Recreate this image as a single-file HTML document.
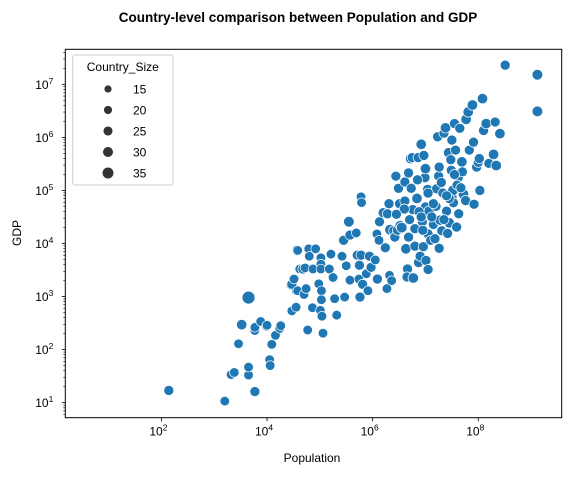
<!DOCTYPE html>
<html><head><meta charset="utf-8"><style>
body{margin:0;background:#fff;}
svg text{font-family:"Liberation Sans","DejaVu Sans",sans-serif;}
</style></head><body>
<svg id="chart" width="582" height="476" viewBox="0 0 582 476" xmlns="http://www.w3.org/2000/svg">
<text x="298" y="22" text-anchor="middle" font-size="13.5" font-weight="bold">Country-level comparison between Population and GDP</text>
<rect x="65.3" y="49.3" width="496.4" height="368.4" fill="#fff" stroke="none"/>
<g id="points"></g>
<rect x="65.3" y="49.3" width="496.4" height="368.4" fill="none" stroke="#000" stroke-width="1"/>
<g id="axes"></g>
<text x="312" y="462" text-anchor="middle" font-size="12">Population</text>
<text x="21" y="233" text-anchor="middle" font-size="12" transform="rotate(-90 21 233)">GDP</text>
<g id="legend">
<rect x="72.7" y="55" width="100.3" height="130" rx="2.5" fill="#fff" fill-opacity="0.8" stroke="#ccc"/>
<text x="122.8" y="71" text-anchor="middle" font-size="12">Country_Size</text>
</g>
</svg>
<script>
const popLog=[2.14,3.20,3.32,3.38,3.46,3.52,3.65,3.65,3.65,3.77,3.77,3.77,3.88,3.99,4.00,4.05,4.06,4.09,4.16,4.25,4.24,4.46,4.47,4.52,4.56,4.57,4.56,4.55,4.62,
4.26,4.47,4.51,4.58,4.47,4.55,4.58,4.68,4.72,4.70,4.74,4.77,4.79,4.80,4.92,4.86,4.87,4.98,5.02,5.02,5.02,5.03,5.03,5.01,5.04,5.06,5.18,5.21,5.25,5.28,5.32,5.42,5.45,5.47,5.50,5.55,5.57,5.57,5.69,5.71,5.78,5.94,5.75,5.74,5.76,5.81,5.78,5.79,5.88,5.91,5.97,6.05,6.09,6.08,6.13,6.12,6.20,6.28,6.24,6.27,6.32,6.36,6.31,6.33,6.40,6.42,6.44,6.47,6.49,6.51,6.61,6.52,6.61,6.63,6.66,6.65,6.68,6.68,6.72,6.75,6.73,6.76,6.77,6.80,6.80,6.84,6.86,6.87,6.90,6.92,6.94,6.96,6.97,6.99,7.00,7.00,7.01,7.04,7.05,7.05,7.07,7.10,7.15,7.18,7.21,7.23,7.25,7.26,7.26,7.28,7.31,7.33,7.35,7.38,7.40,7.42,7.44,7.45,7.48,7.49,7.50,7.50,7.52,7.53,7.55,7.57,7.59,7.62,7.63,7.65,7.69,7.72,7.76,7.77,7.81,7.83,7.89,7.91,7.92,7.97,8.00,8.02,8.03,8.08,8.10,8.15,8.20,8.29,8.32,8.34,8.41,8.51,9.12,9.12,
6.55,6.70,6.88,6.95,7.12,7.20,7.35,7.45,7.60,7.70,6.60,6.85,7.05,7.30,7.55,6.45,6.92,7.15,7.40,7.67];
const gdpLog=[1.23,1.03,1.53,1.57,2.11,2.47,2.98,1.52,1.67,1.21,2.36,2.42,2.53,2.44,2.46,1.81,1.70,2.10,2.27,2.45,2.40,3.22,2.73,3.34,3.88,3.86,3.11,2.81,3.52,
2.45,3.23,3.33,3.11,2.73,2.80,3.87,3.52,3.54,3.04,3.15,2.37,3.90,3.76,3.90,2.79,3.52,3.24,3.73,3.61,3.52,3.11,2.94,2.74,2.63,2.31,3.52,3.80,3.36,2.96,2.65,3.76,4.06,2.99,3.58,4.41,3.31,4.16,4.20,3.78,3.78,3.76,3.59,3.33,2.99,3.23,4.88,4.77,3.43,3.11,3.55,3.69,3.33,4.18,4.41,4.06,4.58,4.56,3.92,3.15,3.40,3.30,4.75,4.26,4.24,4.12,5.27,4.25,5.04,4.75,4.80,4.34,5.16,3.90,3.52,3.37,5.33,4.12,5.60,5.62,5.04,4.64,3.35,3.95,4.28,4.85,5.62,3.64,3.76,5.87,4.41,3.94,5.66,5.24,5.41,4.69,3.68,5.02,4.18,3.51,4.61,4.06,4.36,4.09,5.03,6.01,5.27,5.44,3.91,4.44,4.24,4.95,6.08,6.18,4.61,4.19,5.71,4.39,5.58,5.38,5.95,4.87,5.00,4.77,6.26,5.76,4.31,5.25,4.56,6.17,5.54,4.93,4.81,6.34,6.48,5.76,6.61,5.91,4.74,5.44,5.53,5.60,5.00,6.73,6.13,6.26,5.51,5.68,6.29,5.47,6.07,7.36,7.18,6.49,
4.30,4.45,4.60,4.25,4.50,4.70,4.45,4.85,5.10,5.35,4.65,5.20,4.95,5.15,5.30,4.55,4.50,4.75,4.90,5.05];
const sizeVal=[22,20,20,20,20,24,35,20,20,22,20,20,20,20,20,20,20,20,20,22,20,25,22,20,20,20,22,20,20,
20,22,20,20,20,20,20,22,20,20,20,20,20,20,20,20,20,20,20,20,20,20,20,20,20,20,20,20,20,20,20,20,22,20,20,25,20,22,20,22,22,22,22,20,22,22,20,20,20,20,22,20,22,20,22,20,22,22,22,20,20,20,22,25,22,22,22,22,22,22,22,22,22,24,22,22,22,22,24,22,22,22,24,22,22,24,22,22,22,24,22,22,22,22,24,22,22,22,22,22,24,22,22,22,22,22,22,22,22,24,22,22,22,24,22,22,24,24,22,22,22,24,24,22,22,22,22,24,22,22,24,24,22,24,24,22,24,22,22,22,22,22,22,24,22,24,22,24,22,24,24,22,25,25,25,
22,22,22,22,22,22,22,22,22,22,22,22,22,22,22,22,22,22,22,22];
const xTickExp=[2,4,6,8];
const yTickExp=[1,2,3,4,5,6,7];
const legendSizes=[15,20,25,30,35];

const NS='http://www.w3.org/2000/svg';
const X0=65.3,X1=561.7,Y0=49.3,Y1=417.7;
const xMin=0.18,xMax=9.58,yMin=0.717,yMax=7.66;
function xs(v){return X0+(v-xMin)/(xMax-xMin)*(X1-X0);}
function ys(v){return Y1-(v-yMin)/(yMax-yMin)*(Y1-Y0);}
function rad(s){return 2.6+0.11*s;}
function mk(tag,attrs,parent){const e=document.createElementNS(NS,tag);for(const k in attrs)e.setAttribute(k,attrs[k]);parent.appendChild(e);return e;}

const pg=document.getElementById('points');
for(let i=0;i<popLog.length;i++){
  const c=mk('circle',{cx:xs(popLog[i]),cy:ys(gdpLog[i]),r:rad(sizeVal[i]),fill:'#1f77b4',stroke:'#fff','stroke-width':0.7},pg);
  
  
}
const ax=document.getElementById('axes');
xTickExp.forEach(e=>{
  const x=xs(e);
  const l=mk('line',{x1:x,x2:x,y1:Y1,y2:Y1+3.5,stroke:'#000','stroke-width':0.8},ax);
  
  
  const t=mk('text',{x:x-3,y:Y1+18,'text-anchor':'middle','font-size':12},ax);
  
  
  t.textContent='10';
  const s=mk('tspan',{dy:-5,'font-size':8.5},t);s.textContent=e;
});
yTickExp.forEach(e=>{
  const y=ys(e);
  const l=mk('line',{x1:X0-3.5,x2:X0,y1:y,y2:y,stroke:'#000','stroke-width':0.8},ax);
  
  
  const t=mk('text',{x:X0-12,y:y+4.5,'text-anchor':'end','font-size':12},ax);
  
  
  t.textContent='10';
  const s=mk('tspan',{dy:-5,'font-size':8.5},t);s.textContent=e;
});
for(let e=0;e<=7;e++){for(let m=2;m<=9;m++){const v=e+Math.log10(m);if(v<yMin||v>yMax)continue;
  const y=ys(v);
  const l=mk('line',{x1:X0-2,x2:X0,y1:y,y2:y,stroke:'#000','stroke-width':0.6},ax);
  
  
}}
const lg=document.getElementById('legend');
legendSizes.forEach((s,i)=>{
  const y=89+i*21;
  const c=mk('circle',{cx:108,cy:y,r:rad(s)*0.85,fill:'#333'},lg);
  
  
  const t=mk('text',{x:133,y:y+4.5,'font-size':12},lg);
  
  
  t.textContent=s;
});
</script>
</body></html>
